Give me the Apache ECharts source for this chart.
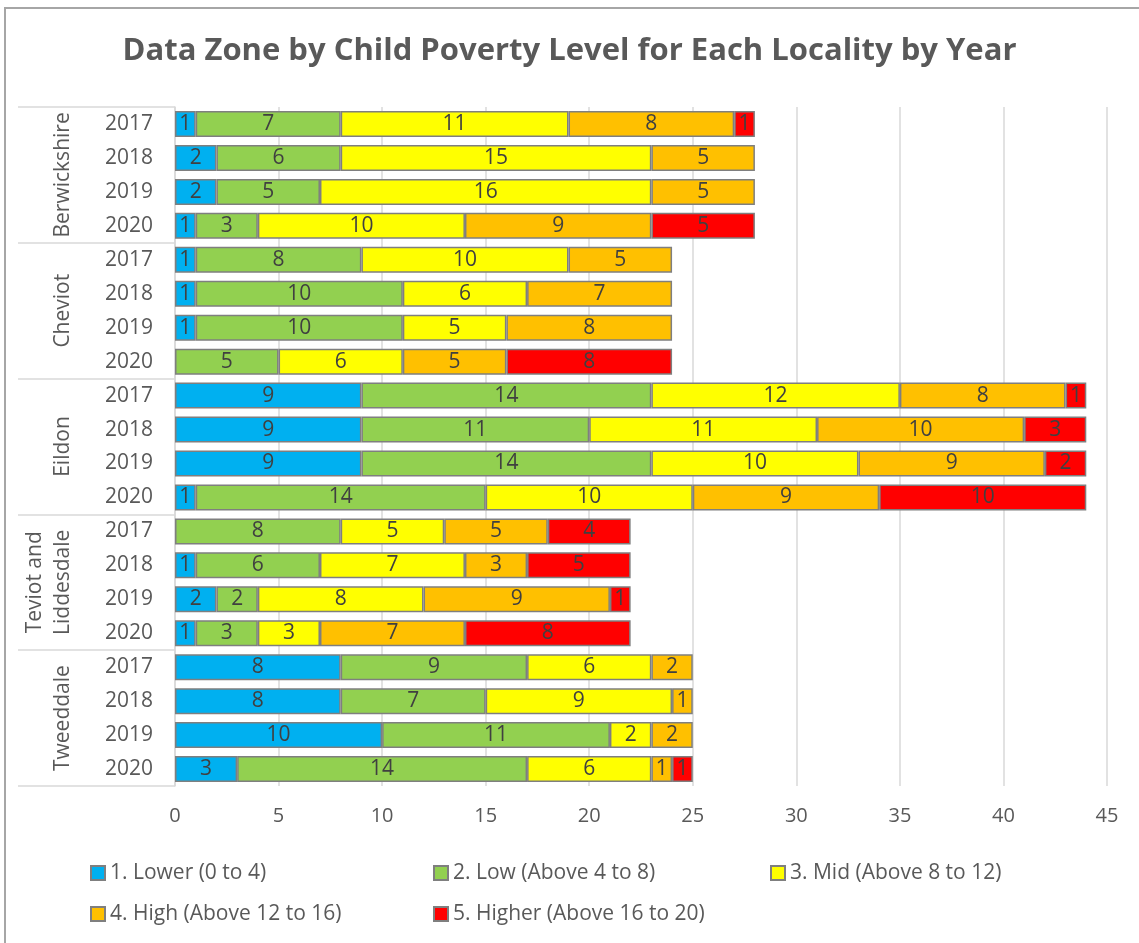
<!DOCTYPE html>
<html>
<head>
<meta charset="utf-8">
<script src="https://cdn.jsdelivr.net/npm/echarts@6/dist/echarts.min.js"></script>
<style>
  html, body { margin: 0; padding: 0; background: #fff; }
  #main { position: absolute; left: 0; top: 0; width: 1139px; height: 943px; }
  #frame { position: absolute; left: 4px; top: 7px; width: 1200px; height: 1000px;
           border-left: 2px solid #a6a6a6; border-top: 2px solid #a6a6a6; pointer-events: none; }
</style>
</head>
<body>
<div id="main"></div>
<div id="frame"></div>
<script>
// ===================== data =====================
const localities = ['Berwickshire', 'Cheviot', 'Eildon', 'Teviot and\nLiddesdale', 'Tweeddale']
const years = ['2017', '2018', '2019', '2020']
const levelNames = [
  '1. Lower (0 to 4)',
  '2. Low (Above 4 to 8)',
  '3. Mid (Above 8 to 12)',
  '4. High (Above 12 to 16)',
  '5. Higher (Above 16 to 20)',
]
const levelColors = ['#00b0f0', '#92d050', '#ffff00', '#ffc000', '#ff0000']
const xTicks = [0, 5, 10, 15, 20, 25, 30, 35, 40, 45]

// rows: locality x year, top to bottom
const lower = [1, 2, 2, 1, 1, 1, 1, 0, 9, 9, 9, 1, 0, 1, 2, 1, 8, 8, 10, 3]
const low = [7, 6, 5, 3, 8, 10, 10, 5, 14, 11, 14, 14, 8, 6, 2, 3, 9, 7, 11, 14]
const mid = [11, 15, 16, 10, 10, 6, 5, 6, 12, 11, 10, 10, 5, 7, 8, 3, 6, 9, 2, 6]
const high = [8, 5, 5, 9, 5, 7, 8, 5, 8, 10, 9, 9, 5, 3, 9, 7, 2, 1, 2, 1]
const higher = [1, 0, 0, 5, 0, 0, 0, 8, 1, 3, 2, 10, 4, 5, 1, 8, 0, 0, 0, 1]

const levels = [lower, low, mid, high, higher]
const rowYears = localities.flatMap(() => years)

const FONT = '"Open Sans", "DejaVu Sans", sans-serif'
const TEXT = '#595959'
const GRID = '#d9d9d9'

// ===================== init =====================
const myChart = echarts.init(document.getElementById('main'))
const option = {
  animation: false,
  textStyle: { fontFamily: FONT },
  title: {
    text: 'Data Zone by Child Poverty Level for Each Locality by Year',
    left: 'center',
    top: 31,
    textStyle: { color: TEXT, fontSize: 31, fontWeight: 'bold', fontFamily: FONT },
  },
  grid: { left: 175, right: 32, top: 107, bottom: 157 },
  legend: [
    { data: [levelNames[0], levelNames[3]], left: 85 },
    { data: [levelNames[1], levelNames[4]], left: 428 },
    { data: [levelNames[2]], left: 765 },
  ].map((l) => ({
    ...l,
    top: 856,
    orient: 'vertical',
    icon: 'rect',
    itemWidth: 14,
    itemHeight: 14,
    itemGap: 17,
    textStyle: { color: TEXT, fontSize: 21, lineHeight: 24, fontFamily: FONT },
  })),
  xAxis: {
    type: 'value',
    min: xTicks[0],
    max: xTicks[xTicks.length - 1],
    interval: 5,
    axisLine: { show: false },
    axisTick: { show: false },
    splitLine: { show: true, lineStyle: { color: GRID, width: 1.5 } },
    axisLabel: { color: TEXT, fontSize: 20, margin: 20 },
  },
  yAxis: [
    {
      type: 'category',
      data: rowYears,
      inverse: true,
      axisLine: { show: true, lineStyle: { color: GRID, width: 1.5 } },
      axisTick: { show: false },
      axisLabel: { color: TEXT, fontSize: 21, margin: 22, interval: 0 },
    },
    {
      type: 'category',
      data: localities,
      inverse: true,
      position: 'left',
      axisLine: { show: false },
      axisTick: { show: true, length: 157, lineStyle: { color: GRID, width: 1.5 } },
      axisLabel: { color: TEXT, fontSize: 21, lineHeight: 28, rotate: 90, margin: 98, interval: 0 },
    },
  ],
  series: levels.map((vals, i) => ({
    name: levelNames[i],
    type: 'bar',
    stack: 'total',
    yAxisIndex: 0,
    barWidth: 26,
    data: vals.map((v) => (v === 0 ? null : v)),
    itemStyle: { color: levelColors[i], borderColor: '#7f7f7f', borderWidth: 1.5 },
    label: {
      show: true,
      position: 'inside',
      color: '#404040',
      fontSize: 21,
      fontFamily: FONT,
    },
  })),
}
myChart.setOption(option)
</script>
</body>
</html>
